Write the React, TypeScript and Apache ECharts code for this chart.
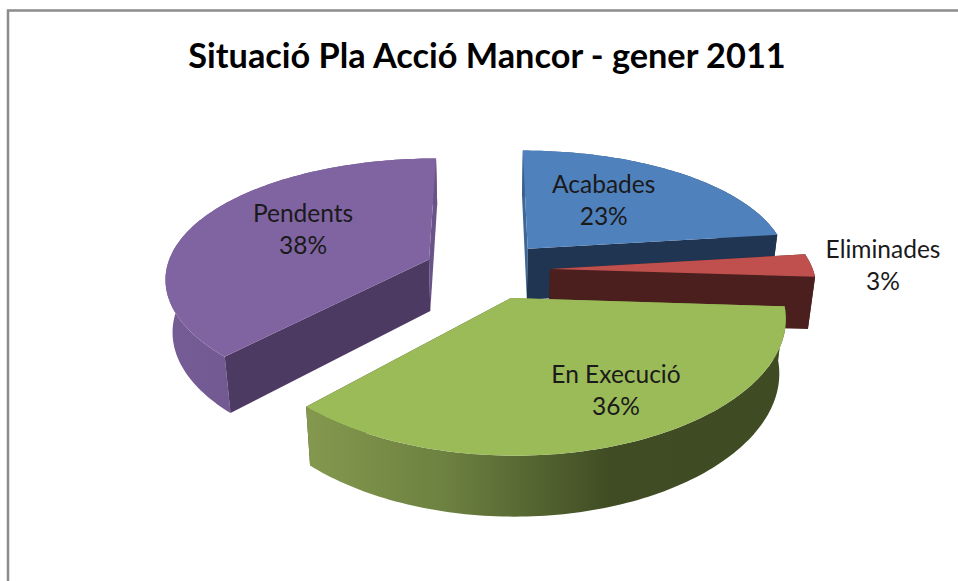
import React, { useEffect, useRef } from "react";
import * as echarts from "echarts";

const titleText = "Situació Pla Acció Mancor - gener 2011";
const categories = ["Acabades", "Eliminades", "En Execució", "Pendents"];
const values = [23, 3, 36, 38];

const topColors = ["#4F81BD", "#C0504D", "#9BBB59", "#8064A2"];
const faceStartColors = ["#3E6797", "#4A1F1E", "#7C9647", "#4D3A62"];
const faceEndColors = ["#1F3552", "#4A1F1E", "#3F4C23", "#6A5388"];
const wallStops = [
  [[0, "#3A6090"], [1, "#1F3552"]],
  [[0, "#4A1F1E"], [1, "#4A1F1E"]],
  [[0, "#84994E"], [0.3, "#6C8040"], [0.63, "#404D24"], [1, "#3F4C23"]],
  [[0, "#755C95"], [1, "#6A5286"]],
];
// label offset from each slice's apex, in pixels: [dx, dy]
const labelOffsets = [
  [76, -49],
  [333, -5],
  [105, 91],
  [-126, -31],
];

const view = {
  cx: 487,
  cy: 270,
  rx: 263,
  ry: 121,
  perspX: 0.14,
  perspY: 0.166,
  perspZ: 0.12,
  explode: 0.24,
  depth: 52,
  converge: 0.978,
};
const total = values.reduce((a, b) => a + b, 0);

function project(gx: number, gy: number, bottom: boolean) {
  let x = view.cx + (view.rx * gx) / (1 - view.perspX * gy);
  let y = view.cy + (view.ry * gy) / (1 - view.perspY * gy);
  if (bottom) {
    x = view.cx + (x - view.cx) * view.converge;
    y += view.depth / (1 - view.perspZ * gy);
  }
  return [x, y];
}

function renderItem(params: any, api: any) {
  const i = params.dataIndex;
  const before = values.slice(0, i).reduce((a, b) => a + b, 0);
  const a0 = (before / total) * Math.PI * 2;
  const a1 = ((before + api.value(0)) / total) * Math.PI * 2;
  const mid = (a0 + a1) / 2;
  const ox = view.explode * Math.sin(mid);
  const oy = -view.explode * Math.cos(mid);
  const arc = (bottom: boolean) => {
    const pts: number[][] = [];
    const n = Math.max(6, Math.ceil((a1 - a0) / 0.02));
    for (let k = 0; k <= n; k++) {
      const a = a0 + ((a1 - a0) * k) / n;
      pts.push(project(ox + Math.sin(a), oy - Math.cos(a), bottom));
    }
    return pts;
  };
  const top = arc(false);
  const low = arc(true);
  const apex = project(ox, oy, false);
  const apexLow = project(ox, oy, true);
  const z = Math.round((1 - Math.cos(mid)) * 100);
  const poly = (points: number[][], fill: any, zz: number) => ({
    type: "polygon",
    z2: z + zz,
    shape: { points },
    style: { fill, stroke: null },
    silent: true,
  });
  const first = top[0];
  const firstLow = low[0];
  const last = top[top.length - 1];
  const lastLow = low[low.length - 1];
  const wallFill = new echarts.graphic.LinearGradient(
    0, 0, 1, 0,
    wallStops[i].map(([offset, color]) => ({ offset: offset as number, color: color as string }))
  );
  // a cut face turned toward the viewer paints over the outer wall, one turned away under it
  const startFront = -Math.sin(a0) > 0.001;
  const endFront = Math.sin(a1) > 0.001;
  const [dx, dy] = labelOffsets[i];
  const lx = apex[0] + dx;
  const ly = apex[1] + dy;
  const text = (t: string, y: number) => ({
    type: "text",
    z2: 500,
    style: {
      text: t,
      x: lx,
      y,
      fill: "#1a1a1a",
      fontSize: 24.5,
      fontFamily: "Lato, 'Open Sans', sans-serif",
      textAlign: "center",
      textVerticalAlign: "middle",
    },
  });
  return {
    type: "group",
    children: [
      poly([first, apex, apexLow, firstLow], faceStartColors[i], startFront ? 3 : 0),
      poly([last, apex, apexLow, lastLow], faceEndColors[i], endFront ? 3 : 1),
      poly([...top, ...low.slice().reverse()], wallFill, 2),
      poly([apex, ...top], topColors[i], 4),
      text(categories[i], ly - 16),
      text(Math.round((api.value(0) / total) * 100) + "%", ly + 16),
    ],
  };
}

export default function App() {
  const ref = useRef<HTMLDivElement>(null);
  useEffect(() => {
    const chart = echarts.init(ref.current!, null, { renderer: "svg" });
    chart.setOption({
      animation: false,
      backgroundColor: "#fff",
      title: {
        text: titleText,
        left: 482,
        top: 32,
        textAlign: "center",
        textStyle: {
          fontFamily: "Lato, 'Open Sans', sans-serif",
          fontWeight: "bold",
          fontSize: 34.3,
          color: "#000",
        },
      },
      graphic: [
        {
          type: "polyline",
          silent: true,
          shape: { points: [[8, 581], [8, 10.5], [958, 10.5]] },
          style: { fill: null, stroke: "#8C8C8C", lineWidth: 2.5 },
        },
      ],
      series: [
        {
          type: "custom",
          coordinateSystem: "none",
          data: categories.map((name, i) => ({ name, value: [values[i]] })),
          renderItem,
          silent: true,
          animation: false,
        },
      ],
    });
    return () => chart.dispose();
  }, []);
  return <div ref={ref} style={{ position: "absolute", left: 0, top: 0, width: 958, height: 581 }} />;
}
